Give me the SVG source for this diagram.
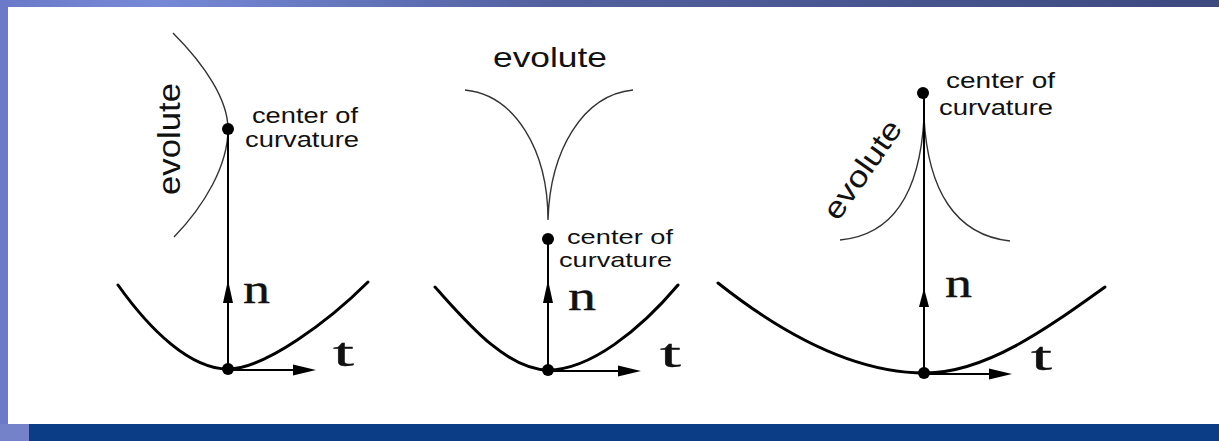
<svg xmlns="http://www.w3.org/2000/svg" width="1219" height="441" viewBox="0 0 1219 441">
<defs>
<linearGradient id="topg" x1="0" y1="0" x2="1" y2="0">
<stop offset="0" stop-color="#6a7ac8"/>
<stop offset="0.13" stop-color="#7689d7"/>
<stop offset="0.45" stop-color="#52609f"/>
<stop offset="1" stop-color="#3d4a80"/>
</linearGradient>
<style>
.curve{fill:none;stroke:#000;stroke-width:3;stroke-linecap:round}
.evo{fill:none;stroke:#333;stroke-width:1.4}
.norm{fill:none;stroke:#000;stroke-width:2}
.dot{fill:#000}
.head{fill:#000}
.lab{font-family:"Liberation Sans",Arial,sans-serif;fill:#111}
.mono{font-family:"Liberation Serif",serif;fill:#111;stroke:#111;stroke-width:0.35;font-size:40px}
</style>
</defs>
<rect x="0" y="0" width="1219" height="441" fill="#fff"/>
<rect x="0" y="0" width="1219" height="7" fill="url(#topg)"/>
<rect x="0" y="0" width="8" height="424" fill="#6a7ac8"/>
<rect x="0" y="424" width="1219" height="17" fill="#0b3c86"/>
<rect x="0" y="424" width="29" height="17" fill="#7482c9"/>

<g id="panel1">
<path class="evo" d="M173,33 C205,65 228,100 228,129 C228,165 205,205 174,237"/>
<path class="curve" d="M118,285 C150,330 190,369 228,369 C265,369 330,320 368,282"/>
<text class="lab" font-size="32" transform="translate(180,195) rotate(-90)" textLength="112" lengthAdjust="spacingAndGlyphs">evolute</text>
<text class="lab" font-size="22" x="252" y="123" textLength="106" lengthAdjust="spacingAndGlyphs">center of</text>
<text class="lab" font-size="22" x="245" y="147" textLength="114" lengthAdjust="spacingAndGlyphs">curvature</text>
<text class="mono" x="243" y="303" textLength="27" lengthAdjust="spacingAndGlyphs">n</text>
<text class="mono" x="333" y="366" textLength="21" lengthAdjust="spacingAndGlyphs">t</text>
</g>

<g id="panel2">
<path class="evo" d="M465,90 C515,95 548,150 548,220 M633,90 C583,95 550,150 548,220"/>
<path class="curve" d="M435,287 C465,320 505,369 548,370 C590,370 640,330 678,285"/>
<text class="lab" font-size="28" x="493" y="67" textLength="114" lengthAdjust="spacingAndGlyphs">evolute</text>
<text class="lab" font-size="21" x="567" y="244" textLength="106" lengthAdjust="spacingAndGlyphs">center of</text>
<text class="lab" font-size="21" x="559" y="267" textLength="113" lengthAdjust="spacingAndGlyphs">curvature</text>
<text class="mono" x="568" y="310" textLength="28" lengthAdjust="spacingAndGlyphs">n</text>
<text class="mono" x="660" y="367" textLength="21" lengthAdjust="spacingAndGlyphs">t</text>
</g>

<g id="panel3">
<path class="evo" d="M924,118 C920,190 895,235 840,240 M924,118 C928,190 955,235 1010,241"/>
<path class="curve" d="M718,283 C790,340 860,373 925,373 C985,373 1045,330 1105,287"/>
<text class="lab" font-size="30" transform="translate(838,222) rotate(-55)" textLength="114" lengthAdjust="spacingAndGlyphs">evolute</text>
<text class="lab" font-size="22" x="946" y="88" textLength="109" lengthAdjust="spacingAndGlyphs">center of</text>
<text class="lab" font-size="22" x="939" y="115" textLength="114" lengthAdjust="spacingAndGlyphs">curvature</text>
<text class="mono" x="945" y="297" textLength="27" lengthAdjust="spacingAndGlyphs">n</text>
<text class="mono" x="1031" y="370" textLength="21" lengthAdjust="spacingAndGlyphs">t</text>
</g>

<g id="connectors">
<line class="norm" x1="228" y1="129" x2="228" y2="369"/>
<polygon class="head" points="228,280 223,303 233,303"/>
<line class="norm" x1="228" y1="370" x2="300" y2="370"/>
<polygon class="head" points="316,370 293,364.5 293,375.5"/>
<circle class="dot" cx="228" cy="129" r="6"/>
<circle class="dot" cx="228" cy="369" r="6"/>

<line class="norm" x1="548" y1="239" x2="548" y2="370"/>
<polygon class="head" points="548,280 543,303 553,303"/>
<line class="norm" x1="548" y1="371" x2="625" y2="371"/>
<polygon class="head" points="641,371 618,365.5 618,376.5"/>
<circle class="dot" cx="548" cy="239" r="6"/>
<circle class="dot" cx="548" cy="370" r="6"/>

<line class="norm" x1="924" y1="93" x2="924" y2="373"/>
<polygon class="head" points="924,288 919,307 929,307"/>
<line class="norm" x1="924" y1="374" x2="995" y2="374"/>
<polygon class="head" points="1012,374 989,368.5 989,379.5"/>
<circle class="dot" cx="923" cy="93" r="6"/>
<circle class="dot" cx="924" cy="373" r="6"/>
</g>
</svg>
